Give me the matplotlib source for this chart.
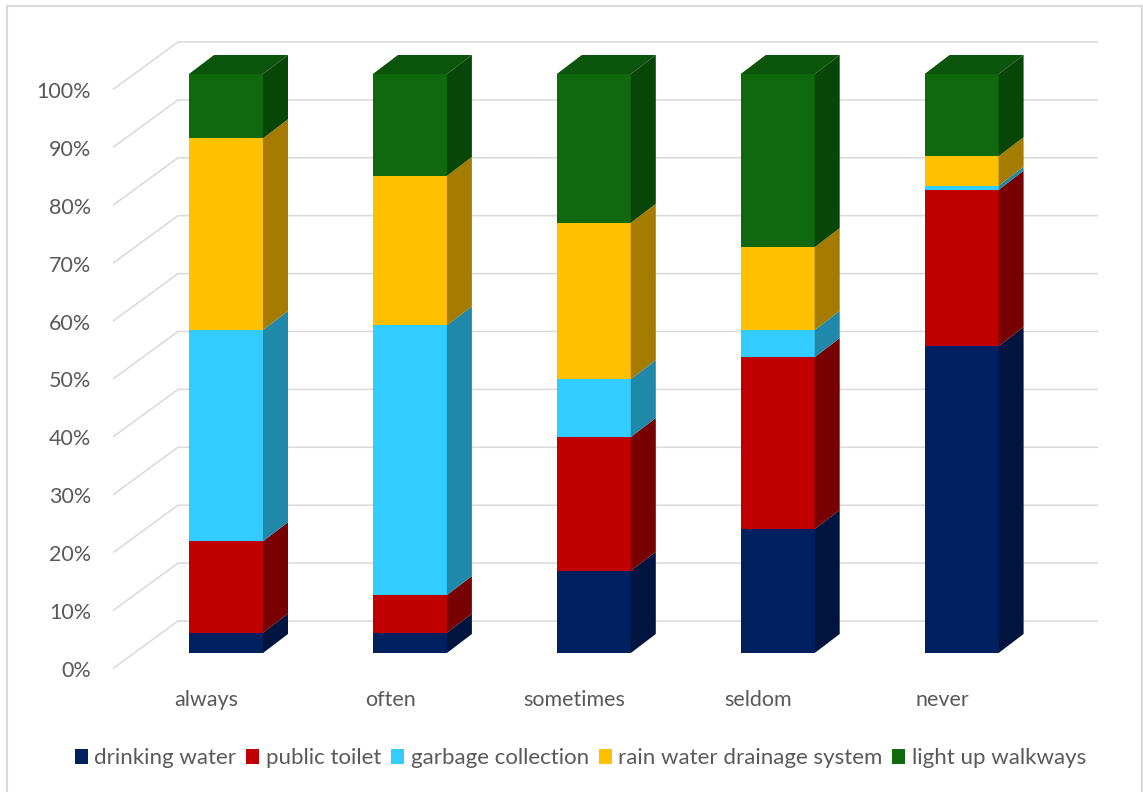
import matplotlib
matplotlib.use("Agg")
import matplotlib.pyplot as plt
from matplotlib.patches import Polygon, Rectangle, Patch

# ---- data -------------------------------------------------------------
categories = ["always", "often", "sometimes", "seldom", "never"]
series_names = ["drinking water", "public toilet", "garbage collection",
                "rain water drainage system", "light up walkways"]
drinking_water = [3.5, 3.5, 14.2, 21.4, 53.0]
public_toilet = [15.8, 6.5, 23.1, 29.7, 27.0]
garbage_collection = [36.5, 46.6, 10.0, 4.7, 0.7]
rain_water_drainage = [33.1, 25.8, 27.0, 14.3, 5.1]
light_up_walkways = [11.1, 17.6, 25.7, 29.9, 14.2]
tick_values = list(range(0, 101, 10))

series_values = [drinking_water, public_toilet, garbage_collection,
                 rain_water_drainage, light_up_walkways]

# front / side / top shading for each series
front_colors = ["#002060", "#C00000", "#33CCFF", "#FFC000", "#10680F"]
side_colors = ["#001440", "#780000", "#2088A8", "#A67C00", "#084608"]
top_color = "#0B540B"

TEXT = "#595959"
FONT = "Lato"
AXIS_SIZE = 15.5
LEGEND_SIZE = 16

# ---- figure -----------------------------------------------------------
W, H = 1143, 792
fig = plt.figure(figsize=(W / 100, H / 100), dpi=100)
ax = fig.add_axes([0, 0, 1, 1])

# pixel geometry of the plot: category spacing and percent scale
x0_px, step_px = 226.0, 183.9
y0_px, pct_px = 653.0, 5.79
ax.set_xlim(-x0_px / step_px, (W - x0_px) / step_px)
ax.set_ylim((y0_px - H) / pct_px, y0_px / pct_px)
ax.axis("off")

bar_w = 74 / step_px
dx, dy = 25 / step_px, 19 / pct_px          # bar depth
wall_dx, wall_dy = 44 / step_px, 32 / pct_px  # front plane -> back wall
floor_dx, floor_dy = 21 / step_px, 15.5 / pct_px  # front plane -> floor edge
grid_right = (1098 - x0_px) / step_px
left_front = (113 - x0_px) / step_px

# chart border
fig.patches.append(Rectangle((7 / W, -0.01), (1142 - 7) / W, 1 - 6 / H + 0.01,
                             transform=fig.transFigure, fill=False,
                             edgecolor="#D9D9D9", linewidth=1.5))

# gridlines along the side wall and back wall, with percent labels
for v in tick_values:
    ax.plot([left_front, left_front + floor_dx + wall_dx, grid_right],
            [v - floor_dy, v + wall_dy, v + wall_dy],
            color="#D9D9D9", linewidth=1.1, zorder=1, solid_capstyle="butt")
    ax.text((91 - x0_px) / step_px, v - 3.1, f"{v}%",
            ha="right", va="center", fontsize=AXIS_SIZE, color=TEXT,
            family=FONT)

# stacked 3D-looking bars
for i, cat in enumerate(categories):
    bottom = 0.0
    n = len(series_values)
    for k, vals in enumerate(series_values):
        v = vals[i]
        ax.bar(i, v, width=bar_w, bottom=bottom, color=front_colors[k],
               linewidth=0, zorder=3)
        xr = i + bar_w / 2
        side = Polygon([(xr, bottom), (xr + dx, bottom + dy),
                        (xr + dx, bottom + v + dy), (xr, bottom + v)],
                       closed=True, facecolor=side_colors[k],
                       edgecolor="none", zorder=3)
        ax.add_patch(side)
        bottom += v
        if k == n - 1:
            xl = i - bar_w / 2
            top = Polygon([(xl, bottom), (xl + dx, bottom + dy),
                           (xr + dx, bottom + dy), (xr, bottom)],
                          closed=True, facecolor=top_color,
                          edgecolor="none", zorder=3)
            ax.add_patch(top)
    ax.text(i - 19.5 / step_px, (y0_px - 700) / pct_px, cat, ha="center",
            va="center", fontsize=AXIS_SIZE, color=TEXT, family=FONT)

# legend
handles = [Patch(facecolor=c, edgecolor="none") for c in front_colors]
fig.legend(handles, series_names, loc="center",
           bbox_to_anchor=(580.5 / W, 1 - 758.5 / H), ncol=5, frameon=False,
           prop={"family": FONT, "size": LEGEND_SIZE}, labelcolor=TEXT,
           handlelength=0.585, handleheight=0.68, handletextpad=0.29,
           columnspacing=0.45, borderaxespad=0)

fig.savefig("out.png", dpi=100)
